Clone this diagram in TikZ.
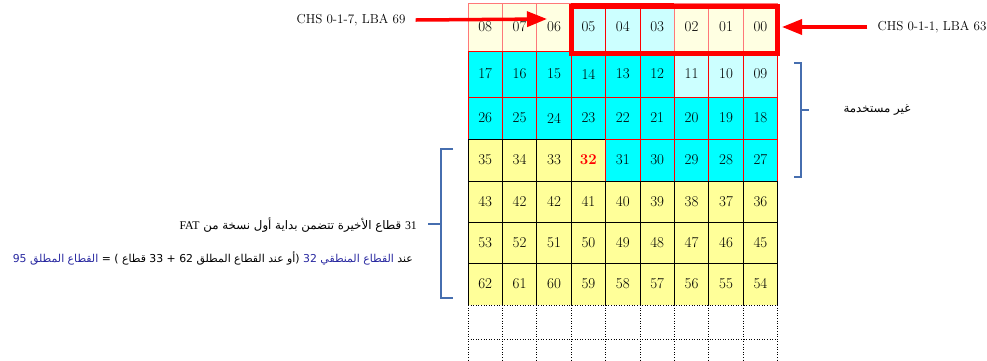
\documentclass[tikz,border=0pt]{standalone}
\usepackage{fontspec}
\usepackage{graphicx}
\usetikzlibrary{arrows.meta}
\TeXXeTstate=1
\newfontfamily\arabicfont[Script=Arabic]{DejaVu Sans}
\newfontfamily\latinserif{Liberation Serif}
\definecolor{cream}{RGB}{255,255,226}
\definecolor{lcyan}{RGB}{204,255,255}
\definecolor{cyanc}{RGB}{0,255,255}
\definecolor{yel}{RGB}{255,255,153}
\definecolor{bracketblue}{RGB}{70,110,175}
\definecolor{txtblue}{RGB}{40,40,160}
\definecolor{lred}{RGB}{255,120,120}
\begin{document}
\begin{tikzpicture}[x=1pt,y=-1pt,
  cell/.style={rectangle, minimum width=34.4pt, inner sep=0pt, outer sep=0pt,
    line width=0.8pt, font=\fontsize{15}{18}\selectfont},
  lbl/.style={inner xsep=10pt, inner ysep=1pt, font=\fontsize{13}{15}\selectfont},
  arab/.style={inner sep=1pt, font=\fontsize{11.8}{14}\arabicfont},
  bigarrow/.style={red, line width=3.5pt, -{Triangle[length=20pt,width=15pt]}},
  bracket/.style={bracketblue, line width=1.4pt},
  dotgrid/.style={black, line width=1pt, dash pattern=on 1pt off 1.6pt}]
\useasboundingbox (0,0) rectangle (987,360);

% row 1
\foreach \t/\f/\b [count=\c from 0] in {08/cream/lred,07/cream/lred,06/cream/lred,05/lcyan/red,04/lcyan/red,03/lcyan/red,02/cream/lred,01/cream/lred,00/cream/lred}
  \node[cell, fill=\f, draw=\b, minimum height=48pt] (c-1-\c) at ({485.2+34.4*\c},27) {\t};
% row 2
\foreach \t/\f [count=\c from 0] in {17/cyanc,16/cyanc,15/cyanc,14/cyanc,13/cyanc,12/cyanc,11/lcyan,10/lcyan,09/lcyan}
  \node[cell, fill=\f, draw=red, minimum height=46pt] (c-2-\c) at ({485.2+34.4*\c},74) {\t};
% row 3
\foreach \t [count=\c from 0] in {26,25,24,23,22,21,20,19,18}
  \node[cell, fill=cyanc, draw=red, minimum height=42pt] (c-3-\c) at ({485.2+34.4*\c},118) {\t};
% row 4
\foreach \t/\f/\b [count=\c from 0] in {35/yel/black,34/yel/black,33/yel/black,{\textcolor{red}{\textbf{32}}}/yel/black,31/cyanc/red,30/cyanc/red,29/cyanc/red,28/cyanc/red,27/cyanc/red}
  \node[cell, fill=\f, draw=\b, minimum height=42pt] (c-4-\c) at ({485.2+34.4*\c},160) {\t};
% row 5
\foreach \t [count=\c from 0] in {43,42,42,41,40,39,38,37,36}
  \node[cell, fill=yel, draw=black, minimum height=41pt] (c-5-\c) at ({485.2+34.4*\c},201.5) {\t};
% row 6
\foreach \t [count=\c from 0] in {53,52,51,50,49,48,47,46,45}
  \node[cell, fill=yel, draw=black, minimum height=41pt] (c-6-\c) at ({485.2+34.4*\c},242.5) {\t};
% row 7 (fill only, borders drawn below)
\foreach \t [count=\c from 0] in {62,61,60,59,58,57,56,55,54}
  \node[cell, fill=yel, minimum height=42pt] (c-7-\c) at ({485.2+34.4*\c},284) {\t};
\draw[black, line width=0.8pt] (c-7-0.south west) -- (c-7-0.north west) -- (c-7-8.north east) -- (c-7-8.south east);
\foreach \c in {1,...,8}
  \draw[black, line width=0.8pt] (c-7-\c.north west) -- (c-7-\c.south west);

% dotted continuation
\draw[dotgrid] (c-7-0.south west) -- (c-7-8.south east);
\draw[dotgrid] ([yshift=-34pt]c-7-0.south west) -- ([yshift=-34pt]c-7-8.south east);
\foreach \c in {0,...,8}
  \draw[dotgrid] (c-7-\c.south west) -- ++(0,56);
\draw[dotgrid] (c-7-8.south east) -- ++(0,56);

% thick red frame round sectors 05..00
\draw[red, line width=5pt] (571.2,6) rectangle (777.8,53);

% labels and arrows
\node[lbl] (chsL) at (351,20) {CHS 0-1-7, LBA 69};
\coordinate (tipL) at (547,19);
\draw[bigarrow] (chsL.east) -- (tipL);
\node[lbl] (chsR) at (932,27) {CHS 0-1-1, LBA 63};
\coordinate (tipR) at (782,27);
\draw[bigarrow] (chsR.west) -- (tipR);

% right bracket
\draw[bracket] (794,63) -- (801,63) -- (801,177) -- (794,177);
\draw[bracket] (801,110) -- (809,110);
\node[arab] (unused) at (877,110) {\beginR غير مستخدمة\endR};

% left bracket
\draw[bracket] (453,149) -- (441,149) -- (441,298) -- (453,298);
\draw[bracket] (428,224) -- (441,224);

\node[arab, anchor=east] (note1) at (418,225) {\beginR {\latinserif 31} قطاع الأخيرة تتضمن بداية أول نسخة من {\latinserif FAT}\endR};
\node[arab, anchor=east] (note2) at (414,258) {\resizebox{400pt}{!}{\textcolor{txtblue}{\beginR القطاع المطلق 95\endR}\ \beginR (أو عند القطاع المطلق 62 + 33 قطاع ) =\endR\ \textcolor{txtblue}{\beginR القطاع المنطقي 32\endR}\ \beginR عند\endR}};
\end{tikzpicture}
\end{document}
